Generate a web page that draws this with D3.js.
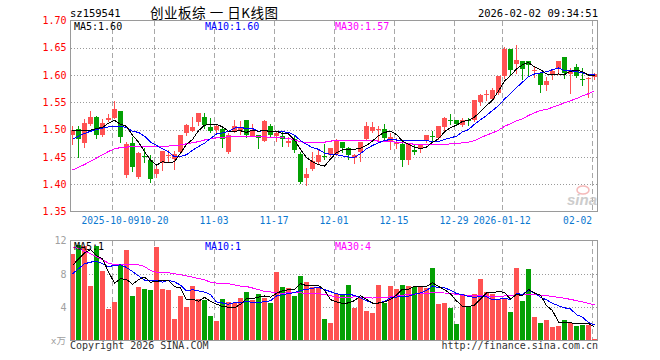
<!DOCTYPE html>
<html><head><meta charset="utf-8">
<script src="https://cdn.jsdelivr.net/npm/d3@7"></script>
<style>
html,body{margin:0;padding:0;background:#fff;}
svg{display:block;}
</style></head>
<body>
<svg id="c" width="660" height="360"></svg>
<script>
const dates = ["2025-09-22","2025-09-23","2025-09-24","2025-09-25","2025-09-26","2025-09-29","2025-09-30",
"2025-10-09","2025-10-10","2025-10-13","2025-10-14","2025-10-15","2025-10-16","2025-10-17",
"2025-10-20","2025-10-21","2025-10-22","2025-10-23","2025-10-24","2025-10-27","2025-10-28","2025-10-29","2025-10-30","2025-10-31",
"2025-11-03","2025-11-04","2025-11-05","2025-11-06","2025-11-07","2025-11-10","2025-11-11","2025-11-12","2025-11-13","2025-11-14",
"2025-11-17","2025-11-18","2025-11-19","2025-11-20","2025-11-21","2025-11-24","2025-11-25","2025-11-26","2025-11-27","2025-11-28",
"2025-12-01","2025-12-02","2025-12-03","2025-12-04","2025-12-05","2025-12-08","2025-12-09","2025-12-10","2025-12-11","2025-12-12",
"2025-12-15","2025-12-16","2025-12-17","2025-12-18","2025-12-19","2025-12-22","2025-12-23","2025-12-24","2025-12-25","2025-12-26",
"2025-12-29","2025-12-30","2025-12-31","2026-01-05","2026-01-06","2026-01-07","2026-01-08","2026-01-09",
"2026-01-12","2026-01-13","2026-01-14","2026-01-15","2026-01-16","2026-01-19","2026-01-20","2026-01-21","2026-01-22","2026-01-23",
"2026-01-26","2026-01-27","2026-01-28","2026-01-29","2026-01-30","2026-02-02"];

const open = [1.490,1.502,1.475,1.510,1.524,1.490,1.517,1.522,1.535,1.416,
1.475,1.413,1.451,1.445,1.418,1.438,1.451,1.446,1.459,1.493,
1.498,1.514,1.523,1.505,1.499,1.502,1.459,1.498,1.500,1.517,
1.489,1.490,1.480,1.506,1.488,1.488,1.476,1.483,1.456,1.412,
1.428,1.440,1.452,1.453,1.456,1.477,1.467,1.448,1.459,1.483,
1.498,1.499,1.501,1.477,1.474,1.473,1.444,1.462,1.465,1.479,
1.488,1.484,1.504,1.518,1.517,1.508,1.518,1.517,1.551,1.564,
1.557,1.567,1.598,1.647,1.621,1.625,1.625,1.607,1.604,1.582,
1.602,1.612,1.633,1.602,1.615,1.593,1.592,1.596];
const high = [1.506,1.506,1.519,1.535,1.525,1.520,1.529,1.552,1.535,1.477,
1.487,1.459,1.466,1.454,1.434,1.460,1.463,1.460,1.490,1.511,
1.523,1.530,1.530,1.522,1.511,1.506,1.493,1.517,1.516,1.518,
1.510,1.491,1.517,1.511,1.496,1.495,1.487,1.491,1.459,1.429,
1.459,1.465,1.474,1.466,1.482,1.477,1.468,1.456,1.477,1.514,
1.514,1.506,1.510,1.493,1.484,1.477,1.474,1.474,1.474,1.491,
1.497,1.506,1.523,1.529,1.518,1.522,1.522,1.555,1.566,1.572,
1.576,1.599,1.651,1.647,1.656,1.625,1.625,1.615,1.604,1.596,
1.609,1.625,1.633,1.613,1.620,1.613,1.596,1.604];
const low = [1.474,1.449,1.469,1.508,1.485,1.488,1.516,1.521,1.477,1.414,
1.424,1.412,1.440,1.404,1.413,1.426,1.440,1.427,1.457,1.491,
1.497,1.509,1.503,1.496,1.493,1.468,1.457,1.496,1.492,1.487,
1.488,1.466,1.479,1.487,1.480,1.470,1.470,1.459,1.402,1.399,
1.426,1.439,1.447,1.451,1.453,1.459,1.447,1.439,1.443,1.482,
1.496,1.481,1.479,1.465,1.467,1.433,1.437,1.455,1.459,1.477,
1.479,1.482,1.499,1.510,1.508,1.506,1.508,1.515,1.545,1.554,
1.555,1.566,1.595,1.601,1.604,1.592,1.601,1.596,1.569,1.572,
1.593,1.602,1.595,1.568,1.596,1.582,1.559,1.593];
const close = [1.499,1.482,1.513,1.524,1.490,1.513,1.522,1.537,1.486,1.473,
1.431,1.458,1.450,1.409,1.427,1.460,1.454,1.455,1.490,1.508,
1.505,1.530,1.508,1.498,1.507,1.482,1.491,1.507,1.505,1.490,
1.500,1.485,1.515,1.490,1.493,1.482,1.479,1.462,1.404,1.418,
1.442,1.453,1.449,1.466,1.481,1.467,1.453,1.454,1.477,1.506,
1.504,1.502,1.485,1.487,1.477,1.444,1.473,1.459,1.474,1.490,
1.487,1.506,1.521,1.517,1.511,1.518,1.517,1.554,1.563,1.566,
1.572,1.598,1.647,1.610,1.627,1.612,1.618,1.609,1.582,1.589,
1.607,1.625,1.604,1.610,1.599,1.592,1.595,1.602];

const ma5 = [1.499,1.498,1.498,1.499,1.502,1.504,1.512,1.517,1.510,1.506,
1.490,1.477,1.460,1.444,1.435,1.441,1.440,1.441,1.457,1.473,
1.482,1.498,1.508,1.510,1.510,1.505,1.497,1.497,1.498,1.495,
1.499,1.497,1.499,1.496,1.497,1.493,1.492,1.481,1.464,1.449,
1.441,1.436,1.433,1.446,1.458,1.463,1.463,1.464,1.466,1.471,
1.479,1.489,1.495,1.497,1.491,1.479,1.473,1.468,1.465,1.468,
1.477,1.483,1.496,1.504,1.508,1.515,1.517,1.523,1.533,1.544,
1.554,1.571,1.589,1.599,1.611,1.619,1.623,1.615,1.610,1.602,
1.601,1.602,1.601,1.607,1.609,1.606,1.600,1.600];
const ma10 = [1.482,1.488,1.493,1.497,1.500,1.503,1.505,1.506,1.506,1.504,
1.497,1.495,1.488,1.477,1.471,1.465,1.459,1.450,1.451,1.454,
1.462,1.469,1.475,1.484,1.492,1.494,1.497,1.503,1.504,1.502,
1.502,1.497,1.498,1.497,1.496,1.496,1.495,1.490,1.480,1.473,
1.467,1.464,1.457,1.455,1.454,1.452,1.450,1.449,1.456,1.465,
1.471,1.476,1.480,1.482,1.481,1.479,1.481,1.481,1.481,1.480,
1.478,1.478,1.482,1.485,1.488,1.496,1.500,1.510,1.518,1.526,
1.535,1.544,1.556,1.566,1.577,1.587,1.597,1.602,1.604,1.606,
1.610,1.613,1.608,1.608,1.606,1.604,1.601,1.601];
const ma30 = [1.426,1.431,1.436,1.442,1.448,1.454,1.460,1.465,1.467,1.468,
1.469,1.469,1.469,1.469,1.469,1.470,1.470,1.471,1.472,1.474,
1.476,1.478,1.481,1.483,1.485,1.486,1.487,1.487,1.487,1.487,
1.487,1.487,1.487,1.486,1.486,1.485,1.484,1.481,1.478,1.476,
1.477,1.477,1.477,1.479,1.480,1.481,1.481,1.481,1.480,1.480,
1.480,1.479,1.478,1.478,1.477,1.476,1.475,1.473,1.472,1.472,
1.472,1.473,1.473,1.474,1.474,1.476,1.477,1.480,1.485,1.490,
1.494,1.499,1.506,1.511,1.516,1.520,1.526,1.531,1.535,1.537,
1.541,1.545,1.549,1.553,1.557,1.562,1.566,1.571];

const volume = [10.4,11.5,11.3,6.5,11.3,8.3,3.75,4.6,9.1,10.9,
5.4,6.4,6.24,6.08,11.28,6.24,6.08,2.56,5.36,4.08,
6.6,4.96,4.9,3.0,2.4,5.04,4.64,4.5,5.16,5.88,
4.88,5.6,5.16,4.48,8.2,6.4,6.28,5.4,7.8,7.0,
6.48,6.36,2.56,2.16,5.6,5.52,6.72,3.88,5.08,3.52,
3.28,6.72,4.52,6.6,6.2,6.72,6.6,6.48,6.48,6.28,
8.76,4.44,4.56,3.96,2.04,5.6,4.04,5.64,7.44,5.84,
5.6,4.96,5.0,3.4,8.76,4.8,8.64,2.88,2.16,2.52,
1.68,1.8,2.52,2.16,1.8,1.92,1.92,0.24];
const vma5 = [9.0,9.8,10.5,10.9,10.2,9.78,8.23,6.89,7.41,7.33,
6.75,7.28,7.61,7.00,7.08,7.25,7.18,6.45,6.30,4.86,
4.94,4.71,5.18,4.71,4.37,4.06,4.00,3.92,4.35,5.04,
5.01,5.20,5.34,5.20,5.66,5.97,6.10,6.15,6.82,6.58,
6.59,6.61,6.04,4.91,4.63,4.44,4.51,4.78,5.36,4.94,
4.50,4.50,4.62,4.93,5.46,6.15,6.13,6.52,6.50,6.51,
6.92,6.49,6.10,5.60,4.75,4.12,4.04,4.26,4.95,5.71,
5.71,5.90,5.77,4.96,5.54,5.38,6.12,5.70,5.45,4.20,
3.58,2.21,2.14,2.14,1.99,2.04,2.06,1.61];
const vma10 = [8.0,8.6,9.2,9.4,9.52,9.2,8.88,9.0,9.08,8.77,
8.27,7.76,7.25,7.21,7.21,7.00,7.23,7.03,6.65,5.97,
6.09,5.95,5.81,5.51,4.62,4.50,4.35,4.55,4.53,4.71,
4.54,4.60,4.63,4.77,5.35,5.49,5.65,5.74,6.01,6.12,
6.28,6.36,6.10,5.86,5.60,5.52,5.56,5.41,5.14,4.79,
4.47,4.50,4.70,5.14,5.20,5.32,5.31,5.57,5.71,5.99,
6.54,6.31,6.31,6.05,5.63,5.52,5.26,5.18,5.28,5.23,
4.92,4.97,5.01,4.96,5.63,5.55,6.01,5.73,5.20,4.87,
4.48,4.16,3.92,3.79,3.10,2.81,2.14,1.87];
const vma30 = [11.24,11.04,10.72,10.4,10.08,9.68,9.28,9.12,9.12,9.12,
9.12,9.08,8.88,8.4,8.2,8.2,8.12,8.0,7.88,7.76,
7.6,7.44,7.28,7.0,6.88,6.84,6.8,6.68,6.52,6.48,
6.30,6.10,5.90,5.83,5.73,5.66,5.75,5.77,5.73,5.60,
5.64,5.63,5.51,5.38,5.19,5.17,5.19,5.23,5.22,5.21,
5.09,5.15,5.14,5.26,5.39,5.44,5.51,5.57,5.62,5.63,
5.76,5.72,5.70,5.69,5.48,5.45,5.38,5.39,5.37,5.34,
5.31,5.26,5.34,5.38,5.49,5.46,5.53,5.49,5.40,5.36,
5.31,5.15,5.08,4.93,4.79,4.63,4.47,4.26];

const priceTicks = [1.35,1.40,1.45,1.50,1.55,1.60,1.65,1.70];
const priceGrid = [1.40,1.45,1.50,1.55,1.60,1.65];
const volTicks = [4,8,12];
const volGrid = [4,8];
const tickDates = ["2025-10-09","2025-10-20","2025-11-03","2025-11-17","2025-12-01","2025-12-15","2025-12-29","2026-01-12","2026-02-02"];
const tickLabels = ["2025-10-09","10-20","11-03","11-17","12-01","12-15","12-29","2026-01-12","02-02"];
const titleCode = "sz159541";
const titleName = "创业板综 一 日K线图";
const timestamp = "2026-02-02 09:34:51";
const maLabels = ["MA5:1.60","MA10:1.60","MA30:1.57"];
const volMaLabels = ["MA5:1","MA10:1","MA30:4"];

const RED = "#ff5252", GREEN = "#04a004";
const MONO = "'DejaVu Sans Mono', monospace";
const svg = d3.select("#c");

const L = 70.5, R = 597.5, T = 20.5, B = 211.5, VT = 240.5, VB = 340.5;
const x = d3.scaleBand().domain(dates).range([69.5, 597.5]).paddingInner(1/6).paddingOuter(1/12);
const bw = x.bandwidth();
const y = d3.scaleLinear().domain([1.35, 1.70]).range([B, T]);
const yv = d3.scaleLinear().domain([0, 12]).range([VB, VT]);
const crisp = v => Math.round(v) + 0.5;

function grids(g, top, bottom, hs, ys) {
  g.selectAll("line.h").data(hs).join("line").attr("class","h")
    .attr("x1", L).attr("x2", R).attr("y1", d => crisp(ys(d))).attr("y2", d => crisp(ys(d)))
    .attr("stroke", "#9a9a9a").attr("stroke-dasharray", "1,2");
  g.selectAll("line.v").data(tickDates).join("line").attr("class","v")
    .attr("x1", d => x(d) + 0.5).attr("x2", d => x(d) + 0.5).attr("y1", top).attr("y2", bottom)
    .attr("stroke", "#a8a8a8").attr("stroke-dasharray", "5,3");
}
const gMain = svg.append("g").attr("shape-rendering", "crispEdges");
grids(gMain, T, B, priceGrid, y);
const gVol = svg.append("g").attr("shape-rendering", "crispEdges");
grids(gVol, VT, VB, volGrid, yv);

const idx = d3.range(dates.length);
const up = i => close[i] >= open[i];

gVol.selectAll("rect.bar").data(idx).join("rect").attr("class","bar")
  .attr("x", i => x(dates[i])).attr("width", bw)
  .attr("y", i => Math.round(yv(volume[i])))
  .attr("height", i => Math.max(1, 340 - Math.round(yv(volume[i]))))
  .attr("fill", i => up(i) ? RED : GREEN);

const gC = svg.append("g").attr("shape-rendering", "crispEdges");
gC.selectAll("line.w").data(idx).join("line").attr("class","w")
  .attr("x1", i => x(dates[i]) + 2.5).attr("x2", i => x(dates[i]) + 2.5)
  .attr("y1", i => Math.round(y(high[i]))).attr("y2", i => Math.round(y(low[i])) + 1)
  .attr("stroke", i => up(i) ? RED : GREEN);
gC.selectAll("rect.b").data(idx).join("rect").attr("class","b")
  .attr("x", i => x(dates[i])).attr("width", bw)
  .attr("y", i => Math.round(y(Math.max(open[i], close[i]))))
  .attr("height", i => Math.max(1, Math.round(y(Math.min(open[i], close[i]))) - Math.round(y(Math.max(open[i], close[i])))))
  .attr("fill", i => up(i) ? RED : GREEN);

function maLine(arr, ys, color) {
  const ln = d3.line().x((d, i) => x(dates[i]) + 2.5).y(d => ys(d));
  svg.append("path").datum(arr).attr("d", ln).attr("fill", "none")
    .attr("stroke", color).attr("stroke-width", 1).attr("shape-rendering", "crispEdges");
}
maLine(ma30, y, "#ff00ff");
maLine(ma10, y, "#0000ff");
maLine(ma5, y, "#000000");
maLine(vma30, yv, "#ff00ff");
maLine(vma10, yv, "#0000ff");
maLine(vma5, yv, "#000000");

svg.append("rect").attr("x", L).attr("y", T).attr("width", R - L).attr("height", B - T)
  .attr("fill", "none").attr("stroke", "#9a9a9a").attr("shape-rendering", "crispEdges");
svg.append("rect").attr("x", L).attr("y", VT).attr("width", R - L).attr("height", VB - VT)
  .attr("fill", "none").attr("stroke", "#9a9a9a").attr("shape-rendering", "crispEdges");

const axP = svg.append("g").attr("transform", `translate(${L},0)`)
  .call(d3.axisLeft(y).tickValues(priceTicks).tickFormat(d3.format(".2f")).tickSize(0).tickPadding(4));
axP.select(".domain").remove();
axP.selectAll("text").attr("fill", "#ff0000").style("font-family", MONO).style("font-size", "10px");

const axV = svg.append("g").attr("transform", `translate(${L},0)`)
  .call(d3.axisLeft(yv).tickValues(volTicks).tickFormat(d3.format("d")).tickSize(0).tickPadding(4));
axV.select(".domain").remove();
axV.selectAll("text").attr("fill", "#a0a0a0").style("font-family", MONO).style("font-size", "10px");

const axX = svg.append("g").attr("transform", `translate(${-bw / 2},${B})`)
  .call(d3.axisBottom(x).tickValues(tickDates).tickFormat((d, i) => tickLabels[i]).tickSize(0).tickPadding(6));
axX.select(".domain").remove();
axX.selectAll("text").attr("fill", "#0b78d0").style("font-family", MONO).style("font-size", "9.6px");
// first label ends where the next begins; last label ends at its tick
axX.selectAll(".tick").filter(d => d === tickDates[0]).select("text")
  .attr("text-anchor", "end").attr("x", (x(tickDates[1]) - x(tickDates[0])) - 14.8);
axX.selectAll(".tick").filter(d => d === tickDates[tickDates.length - 1]).select("text")
  .attr("text-anchor", "end").attr("x", 0);

svg.append("text").attr("x", 70).attr("y", 17).text(titleCode)
  .style("font-family", MONO).style("font-size", "10.5px").attr("fill", "#000");
svg.append("text").attr("x", 150).attr("y", 18).text(titleName)
  .attr("textLength", 128).attr("lengthAdjust", "spacing").style("white-space", "pre")
  .style("font-family", "'Noto Sans CJK SC', sans-serif").style("font-size", "13.5px").attr("fill", "#000");
svg.append("text").attr("x", 598).attr("y", 17).attr("text-anchor", "end").text(timestamp)
  .style("font-family", MONO).style("font-size", "10.5px").attr("fill", "#000");

const maColors = ["#000000", "#0000ff", "#ff00ff"];
const maX = [74, 205, 335];
maLabels.forEach((t, i) => svg.append("text").attr("x", maX[i]).attr("y", 30).text(t)
  .style("font-family", MONO).style("font-size", "10px").attr("fill", maColors[i]));
volMaLabels.forEach((t, i) => svg.append("text").attr("x", maX[i]).attr("y", 249.5).text(t)
  .style("font-family", MONO).style("font-size", "10px").attr("fill", maColors[i]));

svg.append("text").attr("x", 66).attr("y", 344).attr("text-anchor", "end").text("x万")
  .style("font-family", "'DejaVu Sans Mono', 'Noto Sans CJK SC', monospace").style("font-size", "9.5px").attr("fill", "#a0a0a0");
svg.append("text").attr("x", 70).attr("y", 349).text("Copyright 2026 SINA.COM")
  .style("font-family", MONO).style("font-size", "10px").attr("fill", "#333");
svg.append("text").attr("x", 598).attr("y", 349).attr("text-anchor", "end").text("http://finance.sina.com.cn")
  .style("font-family", MONO).style("font-size", "10px").attr("fill", "#333");

svg.append("ellipse").attr("cx", 583).attr("cy", 190).attr("rx", 6).attr("ry", 4)
  .attr("fill", "none").attr("stroke", "#f2a8a8").attr("stroke-width", 1.5).attr("opacity", 0.8);
svg.append("text").attr("x", 582).attr("y", 205).attr("text-anchor", "middle").text("sina")
  .style("font-family", "'Liberation Sans', sans-serif").style("font-size", "15px")
  .style("font-style", "italic").style("font-weight", "bold").attr("fill", "#c4c4c4").attr("opacity", 0.85);
</script>
</body></html>
